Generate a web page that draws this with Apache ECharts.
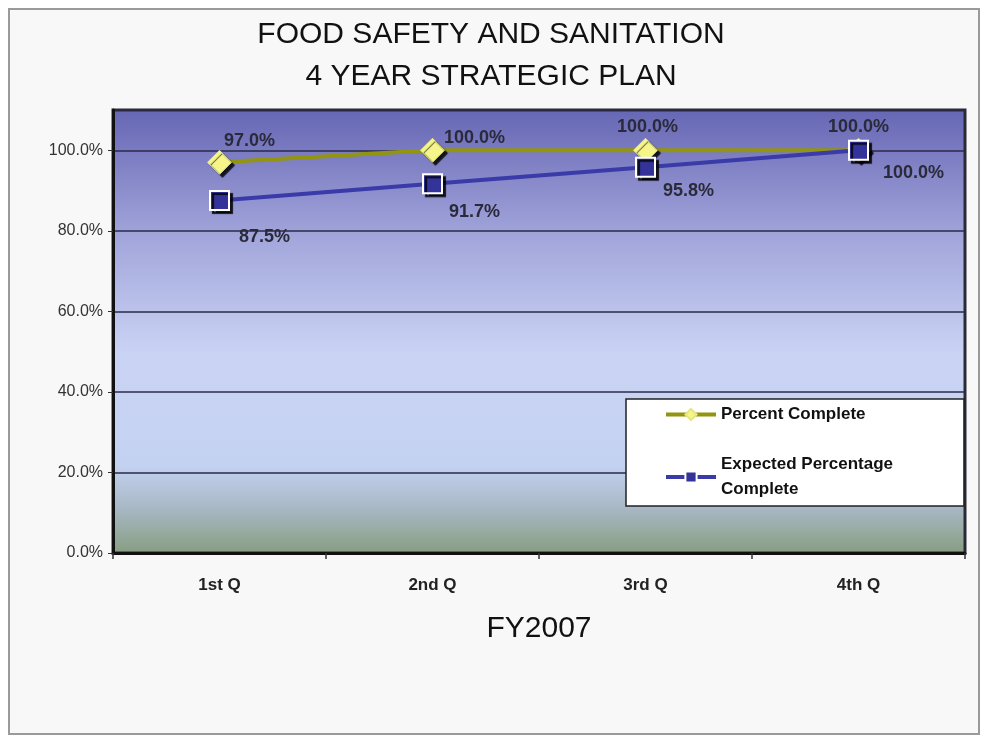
<!DOCTYPE html>
<html>
<head>
<meta charset="utf-8">
<script src="https://cdn.jsdelivr.net/npm/echarts@6/dist/echarts.min.js"></script>
<style>
html,body{margin:0;padding:0;background:#ffffff;}
#chart{width:982px;height:736px;}
</style>
</head>
<body>
<div id="chart"></div>
<script>
const categories = ['1st Q', '2nd Q', '3rd Q', '4th Q'];
const percentComplete = [97.0, 100.0, 100.0, 100.0];
const expectedComplete = [87.5, 91.7, 95.8, 100.0];
const yTicks = [0, 20, 40, 60, 80, 100];
const titleText = 'FOOD SAFETY AND SANITATION\n4 YEAR STRATEGIC PLAN';
const xAxisName = 'FY2007';
const seriesNames = ['Percent Complete', 'Expected Percentage\nComplete'];

// label offsets (styling only)
const pcOffsets = [[30, 2], [42, 11], [2, 0], [0, 0]];
const epOffsets = [[45, 11], [42, 3], [43, -2], [55, -3]];

const chart = echarts.init(document.getElementById('chart'));
const fontFam = '"Liberation Sans", Arial, sans-serif';
const shadow = {shadowColor: 'rgba(0,0,0,0.85)', shadowOffsetX: 3, shadowOffsetY: 3, shadowBlur: 1};

const option = {
  backgroundColor: '#ffffff',
  animation: false,
  graphic: [{
    type: 'rect', left: 8, top: 8, z: -10,
    shape: {width: 970, height: 725},
    style: {fill: '#f8f8f8', stroke: '#9a9a9a', lineWidth: 2}
  }],
  title: {
    text: titleText, left: 'center', top: 9,
    textStyle: {fontFamily: fontFam, fontSize: 30, fontWeight: 'normal', color: '#111', lineHeight: 42}
  },
  grid: {
    left: 113, right: 17, top: 110, bottom: 183,
    show: true,
    borderColor: '#2a2a36', borderWidth: 3,
    backgroundColor: new echarts.graphic.LinearGradient(0, 0, 0, 1, [
      {offset: 0, color: '#6666b4'},
      {offset: 0.3, color: '#a4a8dc'},
      {offset: 0.55, color: '#cad3f4'},
      {offset: 0.8, color: '#c4d2f2'},
      {offset: 0.9, color: '#a7b7c2'},
      {offset: 1, color: '#879d80'}
    ])
  },
  legend: {
    orient: 'vertical', left: 626, top: 399,
    data: seriesNames,
    backgroundColor: '#ffffff', borderColor: '#222', borderWidth: 1.5,
    padding: [3, 71, 4, 38],
    itemWidth: 50, itemHeight: 14, itemGap: 25,
    lineStyle: {width: 4},
    textStyle: {fontFamily: fontFam, fontSize: 17, fontWeight: 'bold', color: '#111', lineHeight: 25}
  },
  xAxis: {
    type: 'category', data: categories, boundaryGap: true,
    name: xAxisName, nameLocation: 'middle', nameGap: 61,
    nameTextStyle: {fontFamily: fontFam, fontSize: 30, color: '#111'},
    axisLine: {lineStyle: {color: '#111', width: 3}},
    axisTick: {show: true, length: 6, lineStyle: {color: '#333', width: 1.5}},
    axisLabel: {fontFamily: fontFam, fontSize: 17, fontWeight: 'bold', color: '#222', margin: 24}
  },
  yAxis: {
    type: 'value', min: 0, max: 110, interval: 20,
    axisLine: {show: true, lineStyle: {color: '#111', width: 3}},
    axisTick: {show: true, length: 5, lineStyle: {color: '#333'}},
    axisLabel: {
      fontFamily: fontFam, fontSize: 16, color: '#333', margin: 10,
      showMaxLabel: false,
      formatter: v => (yTicks.indexOf(v) >= 0 ? v.toFixed(1) + '%' : '')
    },
    splitLine: {show: true, lineStyle: {color: '#2a2a4a', width: 1.5}}
  },
  series: [
    {
      name: seriesNames[0], type: 'line',
      data: percentComplete.map((v, i) => ({value: v, label: {offset: pcOffsets[i]}})),
      symbol: 'diamond', symbolSize: 24,
      lineStyle: {color: '#939410', width: 4},
      itemStyle: Object.assign({color: '#f5f58a', borderColor: '#e6e680', borderWidth: 1}, shadow),
      label: {
        show: true, position: 'top', distance: 2,
        fontFamily: fontFam, fontSize: 18, fontWeight: 'bold', color: '#2a2a3a',
        formatter: p => p.value.toFixed(1) + '%'
      },
      z: 3
    },
    {
      name: seriesNames[1], type: 'line',
      data: expectedComplete.map((v, i) => ({value: v, label: {offset: epOffsets[i]}})),
      symbol: 'rect', symbolSize: 19,
      lineStyle: {color: '#3a3aa8', width: 4},
      itemStyle: Object.assign({color: '#33339a', borderColor: '#ffffff', borderWidth: 2}, shadow),
      label: {
        show: true, position: 'bottom', distance: 6,
        fontFamily: fontFam, fontSize: 18, fontWeight: 'bold', color: '#2a2a3a',
        formatter: p => p.value.toFixed(1) + '%'
      },
      z: 4
    }
  ]
};
chart.setOption(option);
</script>
</body>
</html>
